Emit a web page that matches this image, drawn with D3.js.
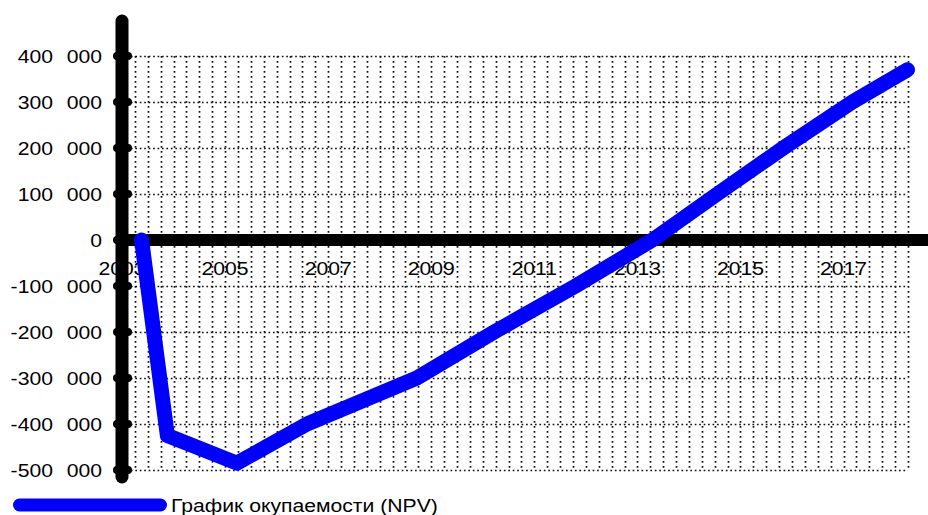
<!DOCTYPE html>
<html>
<head>
<meta charset="utf-8">
<script src="https://cdn.jsdelivr.net/npm/d3@7"></script>
<style>
  html, body { margin: 0; padding: 0; background: #fff; }
  svg { display: block; }
  text { font-family: "Liberation Sans", Arial, sans-serif; fill: #000; }
</style>
</head>
<body>
<svg id="chart" width="928" height="515"></svg>
<script>
// ---- data ----
const years = [2003.38, 2003.88, 2005.23, 2006.59, 2008.72, 2010.22, 2011.80, 2013.29, 2014.55, 2015.83, 2017.17, 2018.24];
const npv   = [0, -425000, -485000, -400000, -300000, -200000, -100000, 0, 100000, 200000, 300000, 370000];
const yTickValues = [400000, 300000, 200000, 100000, 0, -100000, -200000, -300000, -400000, -500000];
const yTickLabels = ["400 000", "300 000", "200 000", "100 000", "0", "-100 000", "-200 000", "-300 000", "-400 000", "-500 000"];
const xTickValues = [2003, 2005, 2007, 2009, 2011, 2013, 2015, 2017];
const xTickLabels = ["2003", "2005", "2007", "2009", "2011", "2013", "2015", "2017"];
const seriesName = "График окупаемости (NPV)";

const svg = d3.select("#chart");
const x = d3.scaleLinear().domain([2003, 2018.25]).range([122, 908]);
const y = d3.scaleLinear().domain([-500000, 400000]).range([470, 56]);
const stretch = 1.21;
const fs = 17.5;

// ---- grid ----
const quarters = d3.range(1, 62).map(i => 2003 + i * 0.25);
svg.append("g").selectAll("line").data(quarters).join("line")
  .attr("x1", d => Math.round(x(d)) + 0.5).attr("x2", d => Math.round(x(d)) + 0.5)
  .attr("y1", y(400000)).attr("y2", y(-500000))
  .attr("stroke", "#111").attr("stroke-width", 1.7)
  .attr("stroke-dasharray", "1.7 3.3");
svg.append("g").selectAll("line").data(yTickValues.filter(v => v !== 0)).join("line")
  .attr("x1", x(2003)).attr("x2", x(2018.25))
  .attr("y1", d => Math.round(y(d)) + 0.5).attr("y2", d => Math.round(y(d)) + 0.5)
  .attr("stroke", "#111").attr("stroke-width", 1.7)
  .attr("stroke-dasharray", "1.7 2.74");

// ---- y labels ----
svg.append("g").selectAll("text").data(yTickValues).join("text")
  .attr("transform", d => `translate(102,${y(d) + 6.6}) scale(${stretch},1)`)
  .attr("text-anchor", "end")
  .style("font-size", fs + "px")
  .style("word-spacing", "6.5px")
  .text((d, i) => yTickLabels[i]);

// ---- x labels ----
svg.append("g").selectAll("text").data(xTickValues).join("text")
  .attr("transform", d => `translate(${x(d)},275) scale(${stretch},1)`)
  .attr("text-anchor", "middle")
  .style("font-size", fs + "px")
  .text((d, i) => xTickLabels[i]);

// ---- zero line ----
svg.append("line")
  .attr("x1", x(2003)).attr("x2", 928)
  .attr("y1", y(0)).attr("y2", y(0))
  .attr("stroke", "#000").attr("stroke-width", 12);

// ---- data line ----
const pts = years.map((yr, i) => [yr, npv[i]]);
svg.append("path")
  .datum(pts)
  .attr("fill", "none")
  .attr("stroke", "#0000ff")
  .attr("stroke-width", 15)
  .attr("stroke-linejoin", "round")
  .attr("stroke-linecap", "round")
  .attr("d", d3.line().x(d => x(d[0])).y(d => y(d[1])));

// ---- y axis ----
svg.append("line")
  .attr("x1", x(2003)).attr("x2", x(2003))
  .attr("y1", 21).attr("y2", 477)
  .attr("stroke", "#000").attr("stroke-width", 13)
  .attr("stroke-linecap", "round");
svg.append("g").selectAll("line").data(yTickValues).join("line")
  .attr("x1", x(2003) - 5).attr("x2", x(2003) + 6)
  .attr("y1", d => y(d)).attr("y2", d => y(d))
  .attr("stroke", "#000").attr("stroke-width", 8)
  .attr("stroke-linecap", "round");

// ---- legend ----
svg.append("line")
  .attr("x1", 19.5).attr("x2", 160.5)
  .attr("y1", 505).attr("y2", 505)
  .attr("stroke", "#0000ff").attr("stroke-width", 13)
  .attr("stroke-linecap", "round");
svg.append("text")
  .attr("transform", `translate(171,512) scale(${stretch},1)`)
  .style("font-size", fs + "px")
  .text(seriesName);
</script>
</body>
</html>
